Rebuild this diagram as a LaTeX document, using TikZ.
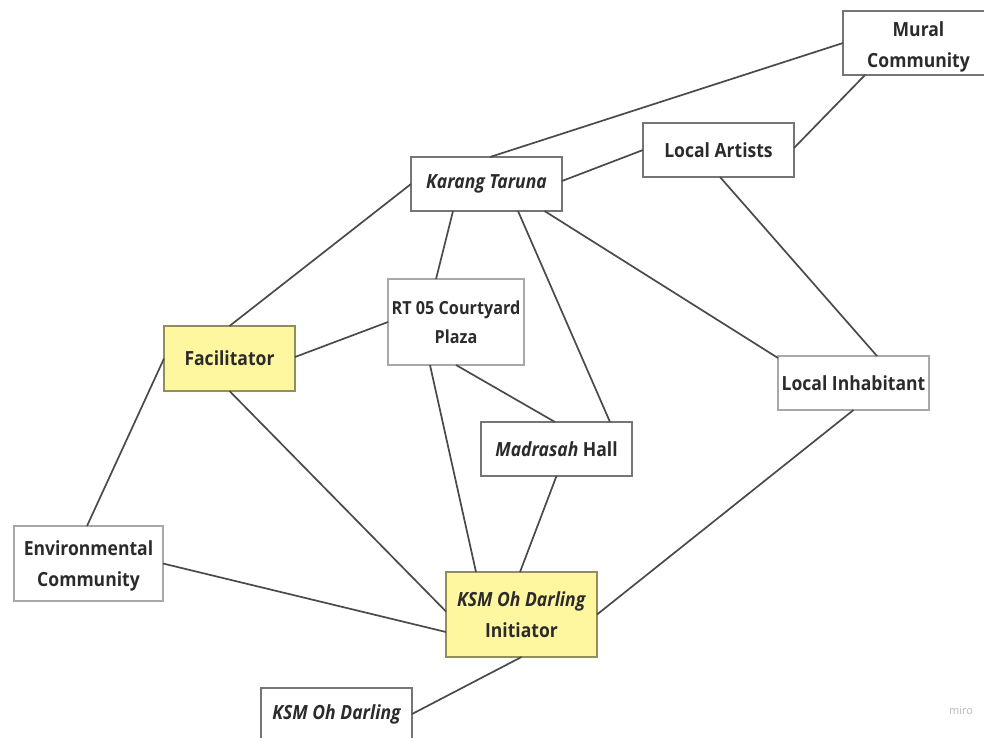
\documentclass[tikz,border=0pt]{standalone}
\usepackage{fontspec}
\setmainfont{Open Sans}[BoldFont={* Bold},ItalicFont={* Italic},BoldItalicFont={* Bold Italic}]
\newfontfamily\narrowfont{Open Sans}[FakeStretch=0.9,BoldFont={* Bold},ItalicFont={* Italic},BoldItalicFont={* Bold Italic}]
\definecolor{boxline}{HTML}{757575}
\definecolor{softline}{HTML}{A8A8A8}
\definecolor{linkline}{HTML}{4A4A4A}
\definecolor{hilite}{HTML}{FFF6A0}
\definecolor{hiline}{HTML}{8F8F5A}
\definecolor{ink}{HTML}{2B2B2B}
\tikzset{
  plainbox/.style={draw=boxline,line width=1.3pt,fill=white,text=ink,font=\narrowfont\bfseries\fontsize{19.5}{31}\selectfont,align=center,inner sep=0pt,outer sep=0pt,rectangle},
  softbox/.style={plainbox,draw=softline},
  hibox/.style={plainbox,draw=hiline,fill=hilite},
  link/.style={draw=linkline,line width=1.7pt}
}
\begin{document}
\begin{tikzpicture}[x=1pt,y=-1pt]
\useasboundingbox (0,0) rectangle (984,737);
\clip (0,0) rectangle (984,737);
\node[plainbox,minimum width=151pt,minimum height=64pt] (mural) at (918.5,43) {\rule{0pt}{23pt}Mural\\Community};
\node[plainbox,minimum width=151pt,minimum height=54pt] (artists) at (718.5,150) {Local Artists};
\node[plainbox,minimum width=151pt,minimum height=54pt] (karang) at (486.5,184) {\itshape Karang Taruna};
\node[softbox,minimum width=136pt,minimum height=86pt,font=\narrowfont\bfseries\fontsize{18}{29}\selectfont] (rt) at (456,322) {RT 05 Courtyard\\Plaza};
\node[hibox,minimum width=131pt,minimum height=65pt] (fac) at (229.5,358.5) {Facilitator};
\node[softbox,minimum width=151pt,minimum height=54pt] (inh) at (853.5,383) {Local Inhabitant};
\node[plainbox,minimum width=151pt,minimum height=54pt] (mad) at (556.5,449) {\textit{Madrasah} Hall};
\node[softbox,minimum width=149pt,minimum height=75pt] (env) at (88.5,563.5) {\rule{0pt}{20pt}Environmental\\Community};
\node[hibox,minimum width=151pt,minimum height=85pt] (ini) at (521.5,614.5) {\textit{KSM Oh Darling}\\Initiator};
\node[plainbox,minimum width=151pt,minimum height=52pt] (ksm) at (336.5,714) {\itshape KSM Oh Darling};
\node[text=black!28,font=\fontsize{11}{13}\selectfont,inner sep=0pt] (miro) at (961,711) {miro};
\draw[link] ([xshift=3.5pt]karang.north) -- (mural.west);
\draw[link] ([yshift=3pt]karang.east) -- (artists.west);
\draw[link] ([xshift=-53.5pt]mural.south) -- ([yshift=2pt]artists.east);
\draw[link] ([xshift=1.5pt]artists.south) -- ([xshift=23.5pt]inh.north);
\draw[link] ([xshift=58pt]karang.south) -- ([yshift=25pt]inh.west);
\draw[link] ([xshift=31.5pt]karang.south) -- ([xshift=53.5pt]mad.north);
\draw[link] ([xshift=-33.5pt]karang.south) -- ([xshift=-20pt]rt.north);
\draw[link] (karang.west) -- (fac.north);
\draw[link] ([yshift=1.5pt]fac.east) -- (rt.west);
\draw[link] (rt.south) -- ([xshift=-1.5pt]mad.north);
\draw[link] ([xshift=-26pt]rt.south) -- ([xshift=-45.5pt]ini.north);
\draw[link] (mad.south) -- ([xshift=-1.5pt]ini.north);
\draw[link] (fac.south) -- ([yshift=3pt]ini.west);
\draw[link] (fac.west) -- ([xshift=-1.5pt]env.north);
\draw[link] (env.east) -- ([yshift=-17.5pt]ini.west);
\draw[link] (inh.south) -- (ini.east);
\draw[link] (ini.south) -- (ksm.east);
\end{tikzpicture}
\end{document}
